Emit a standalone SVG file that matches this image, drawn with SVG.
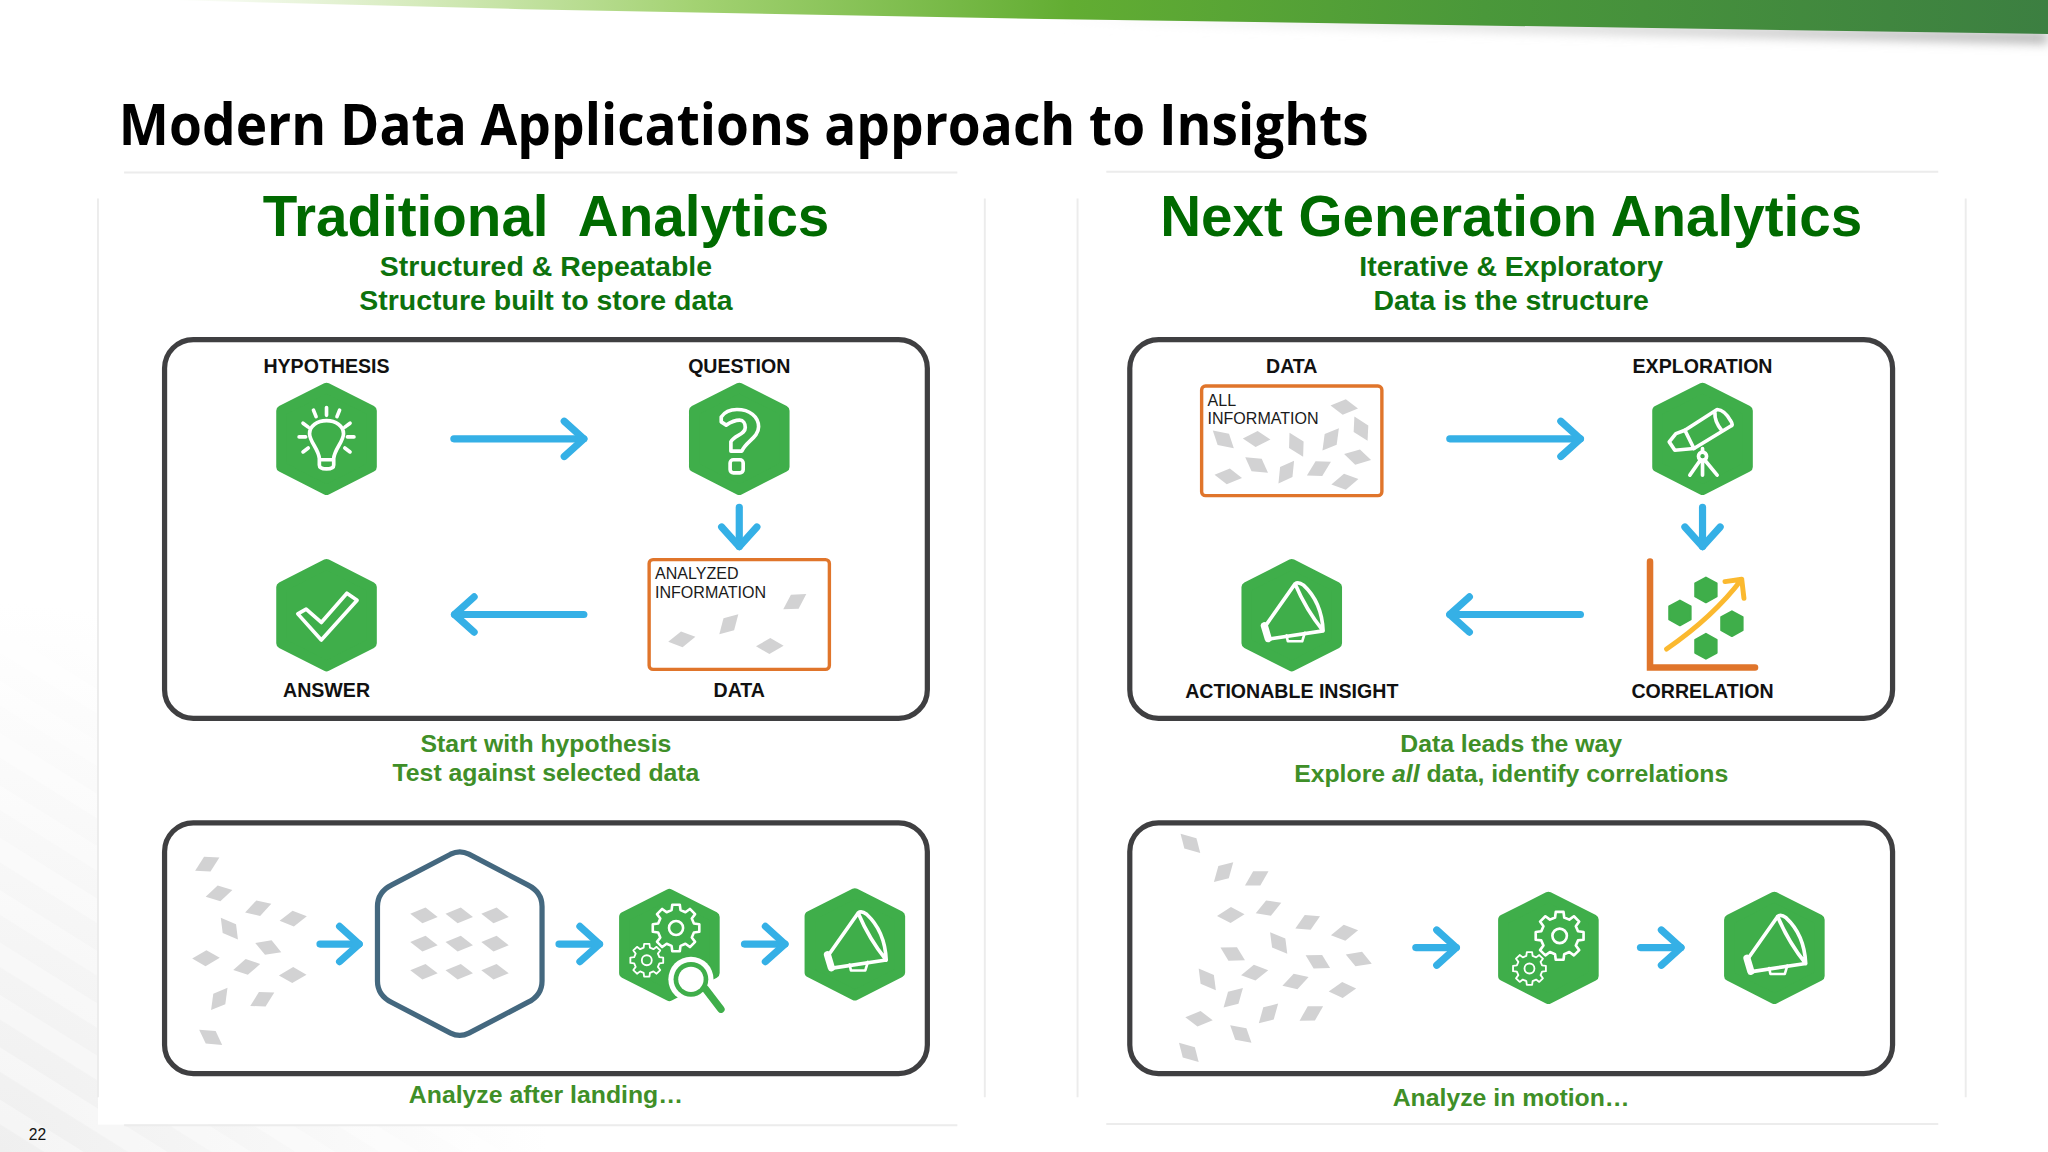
<svg xmlns="http://www.w3.org/2000/svg" width="2048" height="1152" viewBox="0 0 2048 1152">
<style>
text{font-family:"Liberation Sans",Arial,sans-serif}
.title{font-family:"Open Sans","Noto Sans",sans-serif;font-weight:700;font-size:44px;fill:#000}
.h1{font-weight:700;font-size:43.3px;fill:#006a00;text-anchor:middle;white-space:pre}
.h2{font-weight:700;font-size:21.8px;fill:#0d720d;text-anchor:middle}
.cap{font-weight:700;font-size:19px;fill:#3f8f28;text-anchor:middle}
.lbl{font-weight:700;font-size:15px;fill:#111;text-anchor:middle}
.sm{font-size:12.3px;fill:#1a1a1a}
.frame{fill:#fff;stroke:#3f3f41;stroke-width:4}
.faint{stroke:#ececec;stroke-width:1.5;fill:none}
.org{fill:#fff;stroke:#e0752b;stroke-width:2.6}
.hexf{fill:#3fae4a;stroke:#3fae4a;stroke-width:8;stroke-linejoin:round}
.ic{fill:none;stroke:#fff;stroke-width:2.8;stroke-linecap:round;stroke-linejoin:round}
.sp{fill:#d2d2d3}
.arr{fill:none;stroke:#35b0e6;stroke-width:5.5;stroke-linecap:round;marker-end:url(#chev)}
.gearp{fill:none;stroke:#fff;stroke-width:11;stroke-linejoin:round}
</style>
<defs>
<linearGradient id="band" x1="130" x2="1568" y1="0" y2="0" gradientUnits="userSpaceOnUse">
<stop offset="0" stop-color="#fff"/><stop offset=".13" stop-color="#d6ebbd"/><stop offset=".28" stop-color="#a3d272"/><stop offset=".48" stop-color="#62ad32"/><stop offset=".7" stop-color="#4a983a"/><stop offset="1" stop-color="#3c7f41"/>
</linearGradient>
<linearGradient id="shade" x1="800" x2="1568" y1="0" y2="0" gradientUnits="userSpaceOnUse">
<stop offset="0" stop-color="#fff"/><stop offset="1" stop-color="#aaa"/>
</linearGradient>
<radialGradient id="corner" cx="0" cy="882" r="420" gradientUnits="userSpaceOnUse">
<stop offset="0" stop-color="#efefef"/><stop offset="1" stop-color="#fff"/>
</radialGradient>
<pattern id="streaks" width="40" height="34" patternUnits="userSpaceOnUse" patternTransform="rotate(32)">
<rect width="40" height="16" fill="#fff" fill-opacity=".35"/>
</pattern>
<filter id="blur" x="-5%" y="-100%" width="110%" height="300%"><feGaussianBlur stdDeviation="4"/></filter>
<marker id="chev" markerUnits="userSpaceOnUse" markerWidth="40" markerHeight="40" viewBox="0 0 40 40" refX="20" refY="20" orient="auto">
<path d="M5,6.5 L20,20 L5,33.5" fill="none" stroke="#35b0e6" stroke-width="5.5" stroke-linecap="round" stroke-linejoin="round"/>
</marker>
<polygon id="sp" class="sp" points="-10.5,-1.2 1.2,-6 10.5,1.2 -1.2,6"/>
<polygon id="hex" class="hexf" points="0,-39 34.5,-21.5 34.5,21.5 0,39 -34.5,21.5 -34.5,-21.5"/>
<polygon id="minihex" fill="#3fae4a" stroke="#3fae4a" stroke-width="1.5" stroke-linejoin="round" points="0,-9.5 8.2,-5 8.2,5 0,9.5 -8.2,5 -8.2,-5"/>
<g id="mega" class="ic">
<path d="M2.5,-24 Q11,-4 24,12 Q23,-10 9,-23 Q5,-26 2.5,-24 L-20,8 M24,12 L-16,18"/>
<path d="M-21,8 L-18,18" stroke-width="5.5"/>
<path d="M-4,15.5 L-3,20 L8,20 L10,13.5" stroke-width="2"/>
</g>
<g id="gear">
<polygon class="gearp" points="76,-19 99,-16 99,16 76,19 67,40 81,59 59,81 40,67 19,76 16,99 -16,99 -19,76 -40,67 -59,81 -81,59 -67,40 -76,19 -99,16 -99,-16 -76,-19 -67,-40 -81,-59 -59,-81 -40,-67 -19,-76 -16,-99 16,-99 19,-76 40,-67 59,-81 81,-59 67,-40"/>
<circle class="gearp" r="30"/>
</g>
</defs>
<g transform="scale(1.30612)">
<g id="background">
<rect width="1568" height="882" fill="#fff"/>
<rect y="460" width="420" height="422" fill="url(#corner)"/>
<rect y="460" width="420" height="422" fill="url(#streaks)"/>
<rect x="75" y="135" width="679" height="726" fill="#fff"/>
<rect x="825" y="135" width="680" height="726" fill="#fff"/>
<polygon points="800,12 1568,25 1568,33 800,16" fill="url(#shade)" filter="url(#blur)"/>
<polygon points="130,0 1568,0 1568,26 800,14.5 400,7" fill="url(#band)"/>
<path class="faint" d="M95,132H733M847,131.5H1484M95,861.5H733M847,860.5H1484M75,152V840M754,152V840M825,152V840M1505,152V840"/>
</g>
<g id="headings">
<text class="title" x="91" y="111" textLength="957" lengthAdjust="spacingAndGlyphs">Modern Data Applications approach to Insights</text>
<text class="h1" x="418" y="181">Traditional  Analytics</text>
<text class="h1" x="1157" y="181">Next Generation Analytics</text>
<text class="h2" x="418" y="211.500">Structured &amp; Repeatable</text>
<text class="h2" x="418" y="237.500">Structure built to store data</text>
<text class="h2" x="1157" y="211.500">Iterative &amp; Exploratory</text>
<text class="h2" x="1157" y="237.500">Data is the structure</text>
<text class="cap" x="418" y="576">Start with hypothesis</text>
<text class="cap" x="418" y="598">Test against selected data</text>
<text class="cap" x="1157" y="576">Data leads the way</text>
<text class="cap" x="1157" y="599">Explore <tspan font-style="italic">all</tspan> data, identify correlations</text>
<text class="cap" x="418" y="844.500">Analyze after landing…</text>
<text class="cap" x="1157" y="846.500">Analyze in motion…</text>
<text x="22" y="873" font-size="12" fill="#111">22</text>
</g>
<g id="frames">
<rect class="frame" x="126" y="260" width="584" height="290" rx="22"/>
<rect class="frame" x="865" y="260" width="584" height="290" rx="22"/>
<rect class="frame" x="126" y="630" width="584" height="192" rx="22"/>
<rect class="frame" x="865" y="630" width="584" height="192" rx="22"/>
</g>
<g id="node-hypothesis">
<use href="#hex" x="250" y="336"/>
<g class="ic" transform="translate(250,336)">
<path d="M-5.5,15 C-6,8 -13,2 -13,-4 C-13,-10 -7,-14 0,-14 C7,-14 13,-10 13,-4 C13,2 6,8 5.5,15 L5.5,20 Q5.5,23 0,23 Q-5.5,23 -5.5,20 Z M-5.5,16 H5.5"/>
<path d="M0,-24V-18M-10,-22L-8,-17M10,-22L8,-17M-18,-12L-14,-9M18,-12L14,-9M-21,-1.500H-16M21,-1.500H16M-18,10L-14,7M18,10L14,7"/>
</g>
<text class="lbl" x="250" y="285.500">HYPOTHESIS</text>
</g>
<g id="node-question">
<use href="#hex" x="566" y="336"/>
<g class="ic" transform="translate(566,336)">
<path d="M-13.8,-16.8 C-11,-21 -6,-22.500 -1.800,-22.500 C8,-22.500 14.800,-17 14.800,-9.200 C14.800,-1 5,2 2,9.400 L-6.400,9.400 L-6.400,2.300 C-4,-3 4.600,-3 4.600,-8.700 C4.600,-12 3,-14.300 .3,-14.300 C-3,-14.300 -7,-12.500 -10,-10.500 L-13.800,-13 Z"/>
<rect x="-7" y="16" width="10" height="10" rx="2.500"/>
</g>
<text class="lbl" x="566" y="285.500">QUESTION</text>
</g>
<g id="node-answer">
<use href="#hex" x="250" y="471"/>
<polygon class="ic" transform="translate(250,471)" points="-22,-1 -15.600,-4.600 -4,5.600 15.600,-16.800 23.400,-11.500 -4,19"/>
<text class="lbl" x="250" y="534">ANSWER</text>
</g>
<g id="node-data-analyzed">
<rect class="org" x="497" y="428.500" width="138" height="84" rx="3"/>
<text class="sm" x="501.500" y="443.500">ANALYZED</text>
<text class="sm" x="501.500" y="458">INFORMATION</text>
<use href="#sp" transform="translate(608.500,460.700) rotate(-40)"/>
<use href="#sp" transform="translate(558,478) rotate(-53)"/>
<use href="#sp" transform="translate(522,489.500) rotate(-17)"/>
<use href="#sp" transform="translate(589.400,494.600) rotate(-8)"/>
<text class="lbl" x="566" y="534">DATA</text>
</g>
<g id="node-data-all">
<rect class="org" x="920" y="295.500" width="138" height="84" rx="3"/>
<text class="sm" x="924.500" y="310.500">ALL</text>
<text class="sm" x="924.500" y="325">INFORMATION</text>
<use href="#sp" transform="translate(936.600,336.400) rotate(34)"/>
<use href="#sp" transform="translate(962.100,336.100) rotate(-4)"/>
<use href="#sp" transform="translate(992.500,340.500) rotate(54)"/>
<use href="#sp" transform="translate(1018.800,336.400) rotate(-60)"/>
<use href="#sp" transform="translate(1042,328.200) rotate(55)"/>
<use href="#sp" transform="translate(1029.200,311.600) rotate(0)"/>
<use href="#sp" transform="translate(1039.400,349.900) rotate(6)"/>
<use href="#sp" transform="translate(962.100,356) rotate(28)"/>
<use href="#sp" transform="translate(940.400,364.700) rotate(0)"/>
<use href="#sp" transform="translate(984.800,361.400) rotate(-62)"/>
<use href="#sp" transform="translate(1009.800,358.800) rotate(-36)"/>
<use href="#sp" transform="translate(1029.700,368.800) rotate(-18)"/>
<text class="lbl" x="989" y="285.500">DATA</text>
</g>
<g id="node-exploration">
<use href="#hex" x="1303.500" y="336"/>
<g class="ic" transform="translate(1303.500,336)">
<path d="M-13.500,-6.600 L11.200,-22.500 Q17,-22 21.400,-14 Q24,-10 21.400,-9.700 L-6.600,7.400 Z M9.500,-20 Q9,-13 15,-6"/>
<path d="M-13.500,-6.600 L-20.400,-4 L-25.500,2.300 L-21.200,8.700 L-6.600,7.400"/>
<path d="M0,7.400V10M-9.700,27.800L-1.500,16M0,27.800V16.500M11.200,27.800L1.500,16"/>
<circle cx="0" cy="13.300" r="3.100"/>
</g>
<text class="lbl" x="1303.500" y="285.500">EXPLORATION</text>
</g>
<g id="node-correlation">
<path d="M1263.300,430V511H1343.700" fill="none" stroke="#e0752b" stroke-width="5" stroke-linecap="round"/>
<use href="#minihex" x="1306.100" y="451.700"/>
<use href="#minihex" x="1286.200" y="469.300"/>
<use href="#minihex" x="1326" y="477.500"/>
<use href="#minihex" x="1306.100" y="494.800"/>
<path d="M1276,496.900 Q1312,472 1333.500,443.500 M1320.700,445.300 L1333.500,443.500 L1335.200,458" fill="none" stroke="#fbb92f" stroke-width="3.800" stroke-linecap="round" stroke-linejoin="round"/>
<text class="lbl" x="1303.500" y="534.500">CORRELATION</text>
</g>
<g id="node-insight">
<use href="#hex" x="989" y="471"/>
<use href="#mega" x="989" y="471"/>
<text class="lbl" x="989" y="534.500">ACTIONABLE INSIGHT</text>
</g>
<g id="speckles-left">
<use href="#sp" transform="translate(158.700,661.600) rotate(-35)"/>
<use href="#sp" transform="translate(167.700,684) rotate(-21)"/>
<use href="#sp" transform="translate(197.700,695.300) rotate(-25)"/>
<use href="#sp" transform="translate(224.500,703.300) rotate(-16)"/>
<use href="#sp" transform="translate(175.600,711) rotate(45)"/>
<use href="#sp" transform="translate(205.400,725.500) rotate(13)"/>
<use href="#sp" transform="translate(157.700,733.600) rotate(-8)"/>
<use href="#sp" transform="translate(188.900,740.300) rotate(-19)"/>
<use href="#sp" transform="translate(224.100,746.500) rotate(-8)"/>
<use href="#sp" transform="translate(167.900,764.800) rotate(-60)"/>
<use href="#sp" transform="translate(200.800,765) rotate(-36)"/>
<use href="#sp" transform="translate(161.300,794.200) rotate(27)"/>
</g>
<g id="node-store">
<path d="M345,654 Q352,650.500 359,654 L404,677.500 Q415,683 415,694 V751 Q415,762 404,767.500 L359,791 Q352,794.500 345,791 L300,767.500 Q289,762 289,751 V694 Q289,683 300,677.500 Z" fill="#fff" stroke="#44687f" stroke-width="4"/>
<use href="#sp" transform="translate(324.600,700.800)"/>
<use href="#sp" transform="translate(351.600,700.800)"/>
<use href="#sp" transform="translate(379,700.800)"/>
<use href="#sp" transform="translate(324.600,722.500)"/>
<use href="#sp" transform="translate(351.600,722.500)"/>
<use href="#sp" transform="translate(379,722.500)"/>
<use href="#sp" transform="translate(324.600,744)"/>
<use href="#sp" transform="translate(351.600,744)"/>
<use href="#sp" transform="translate(379,744)"/>
</g>
<g id="node-analyze-landed">
<use href="#hex" x="512.500" y="723.500"/>
<use href="#gear" transform="translate(517.600,710.500) scale(.18)"/>
<use href="#gear" transform="translate(495.200,735.200) scale(.127)"/>
<circle cx="529" cy="749.800" r="17.300" fill="#fff"/>
<circle cx="529" cy="749.800" r="13.300" fill="#3fae4a"/>
<circle cx="529" cy="749.800" r="9.700" fill="#fff"/>
<path d="M540,757 L552,772.700" stroke="#3fae4a" stroke-width="5.600" stroke-linecap="round"/>
</g>
<g id="node-insight-landed">
<use href="#hex" x="654.500" y="723"/>
<use href="#mega" x="654.500" y="723"/>
</g>
<g id="speckles-right">
<use href="#sp" transform="translate(911.400,645.700) rotate(38)"/>
<use href="#sp" transform="translate(936.800,667.700) rotate(-52)"/>
<use href="#sp" transform="translate(962.200,672.500) rotate(-38)"/>
<use href="#sp" transform="translate(942.300,700.600) rotate(-10)"/>
<use href="#sp" transform="translate(971.200,695.200) rotate(-29)"/>
<use href="#sp" transform="translate(1001.200,706.200) rotate(-33)"/>
<use href="#sp" transform="translate(1029.400,714.100) rotate(-17)"/>
<use href="#sp" transform="translate(979,722) rotate(45)"/>
<use href="#sp" transform="translate(943.800,730.400) rotate(21)"/>
<use href="#sp" transform="translate(1009,736.300) rotate(21)"/>
<use href="#sp" transform="translate(1040.300,734.300) rotate(13)"/>
<use href="#sp" transform="translate(960.600,744.700) rotate(-17)"/>
<use href="#sp" transform="translate(991.900,751.400) rotate(-25)"/>
<use href="#sp" transform="translate(1027.800,758) rotate(-13)"/>
<use href="#sp" transform="translate(924.300,749.800) rotate(45)"/>
<use href="#sp" transform="translate(944.200,763.900) rotate(-52)"/>
<use href="#sp" transform="translate(971.200,775.900) rotate(-52)"/>
<use href="#sp" transform="translate(1004,775.900) rotate(-38)"/>
<use href="#sp" transform="translate(918,780)"/>
<use href="#sp" transform="translate(950,791.700) rotate(33)"/>
<use href="#sp" transform="translate(910.200,805.700) rotate(38)"/>
</g>
<g id="node-analyze-motion">
<use href="#hex" x="1185.500" y="725.700"/>
<use href="#gear" transform="translate(1194.100,716.500) scale(.185)"/>
<use href="#gear" transform="translate(1171,741.500) scale(.127)"/>
</g>
<g id="node-insight-motion">
<use href="#hex" x="1358.500" y="725.700"/>
<use href="#mega" x="1358.500" y="725.700"/>
</g>
<g id="connectors">
<path class="arr" d="M347.500,336H447"/>
<path class="arr" d="M566,388.500V418.500"/>
<path class="arr" d="M447,470.500H348"/>
<path class="arr" d="M1110,336H1210"/>
<path class="arr" d="M1303.500,388.500V418.500"/>
<path class="arr" d="M1210,470.500H1110"/>
<path class="arr" d="M245,722.800H275"/>
<path class="arr" d="M428,722.800H459"/>
<path class="arr" d="M570,722.800H601"/>
<path class="arr" d="M1084,725.500H1115"/>
<path class="arr" d="M1256,725.500H1287"/>
</g>
</g>
</svg>
